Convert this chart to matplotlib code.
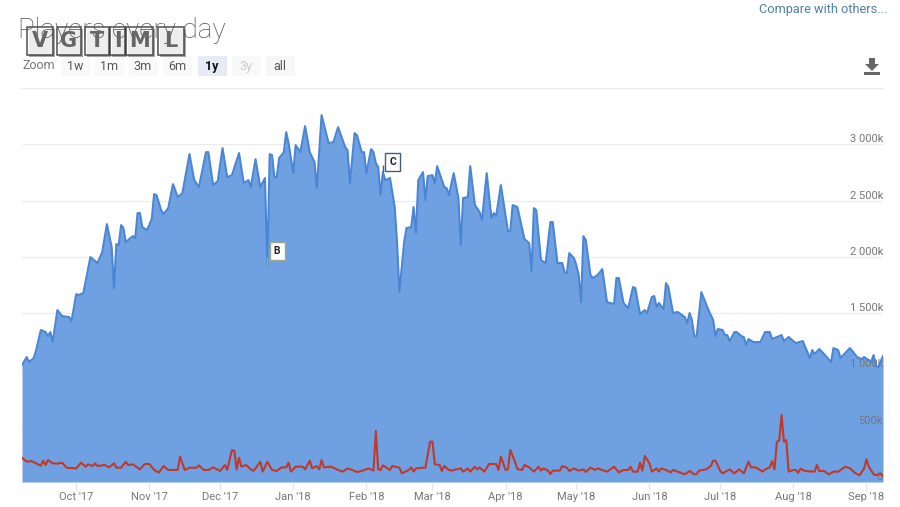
import datetime
import matplotlib
matplotlib.use("Agg")
import matplotlib.pyplot as plt
import matplotlib.dates as mdates
from matplotlib.patches import Rectangle, Polygon

plt.rcParams['font.family'] = ['Roboto', 'DejaVu Sans']

W, H = 900.0, 507.0
start = datetime.date(2017, 9, 8)

# day since 8 Sep 2017, players in thousands
players = [(0,1039),(2,1110),(3,1066),(5,1101),(6,1172),(8,1350),(10,1332),(11,1296),(12,1332),(13,1243),
    (15,1527),(17,1474),(20,1465),(21,1430),(23,1669),(24,1661),(26,1678),(29,1998),(32,1945),(34,2042),
    (36,2291),(38,2087),(39,1723),(40,2113),(41,2105),(42,2282),(43,2256),(44,2131),(47,2184),(48,2167),
    (49,2389),(50,2389),(51,2264),(53,2238),(55,2335),(56,2557),(57,2549),(59,2415),(60,2380),(62,2433),
    (64,2646),(66,2531),(68,2566),(71,2913),(73,2682),(75,2620),(78,2930),(79,2930),(81,2637),(83,2673),
    (85,2966),(87,2708),(89,2726),(92,2922),(94,2655),(96,2682),(97,2620),(99,2868),(101,2620),(103,2700),
    (104,1909),(105,2913),(106,2904),(107,2708),(108,2708),(109,2877),(111,2930),(112,3108),(113,3010),(115,2744),
    (116,2992),(118,2930),(120,3161),(122,2930),(124,2842),(125,2611),(127,3259),(130,3010),(132,3019),(134,3152),
    (137,2975),(138,2948),(139,2655),(141,3099),(142,3081),(144,2930),(145,2930),(146,2744),(148,2957),(149,2930),
    (150,2833),(151,2797),(152,2549),(153,2753),(154,2682),(156,2700),(158,2442),(159,2122),(160,1687),(162,2131),
    (163,2256),(165,2264),(166,2442),(167,2211),(168,2682),(170,2753),(171,2504),(172,2717),(174,2726),(175,2655),
    (176,2806),(179,2620),(180,2611),(181,2549),(183,2744),(185,2522),(186,2105),(187,2522),(189,2531),(190,2806),
    (192,2460),(194,2398),(195,2327),(197,2744),(199,2344),(200,2389),(201,2362),(203,2637),(206,2229),(207,2229),
    (208,2460),(210,2442),(213,2158),(215,2122),(216,1874),(217,2433),(218,2415),(220,1971),(222,1945),(224,2309),
    (225,2309),(227,1945),(229,1945),(230,1865),(231,1856),(232,2033),(234,1989),(235,1927),(236,1838),(237,1598),
    (238,2184),(239,2149),(241,1838),(242,1812),(244,1838),(246,1891),(248,1598),(251,1581),(252,1812),(253,1812),
    (255,1590),(257,1545),(259,1732),(260,1723),(262,1492),(264,1527),(265,1501),(267,1643),(268,1652),(269,1554),
    (270,1590),(272,1536),(273,1767),(274,1732),(276,1501),(278,1510),(281,1465),(282,1412),(283,1501),(284,1439),
    (285,1296),(286,1296),(288,1687),(291,1527),(293,1439),(294,1296),(295,1359),(297,1350),(298,1305),(299,1305),
    (300,1252),(302,1332),(303,1332),(305,1296),(306,1288),(307,1217),(308,1270),(310,1243),(313,1243),(315,1332),
    (317,1332),(318,1270),(322,1305),(323,1252),(325,1288),(328,1234),(331,1252),(334,1101),(335,1172),(336,1137),
    (338,1181),(340,1137),(343,1066),(344,1190),(346,1172),(347,1101),(351,1190),(354,1110),(356,1092),(357,1110),
    (360,1066),(361,1128),(362,1030),(363,1021),(365,1119)]

second = [(0,216),(2,180),(4,186),(6,166),(8,145),(9,189),(10,151),(11,195),(13,166),(15,163),(17,172),(19,127),
    (23,121),(25,172),(27,136),(28,157),(30,142),(31,166),(32,142),(35,151),(37,130),(39,166),(40,127),(42,127),
    (44,180),(45,151),(47,157),(50,112),(52,160),(54,160),(56,107),(58,83),(60,142),(62,107),(66,107),(67,225),
    (69,107),(71,127),(74,127),(75,148),(77,107),(79,107),(81,130),(84,98),(86,151),(87,107),(89,284),(90,278),
    (91,112),(92,216),(93,136),(95,151),(97,112),(98,98),(99,121),(101,180),(102,92),(104,180),(106,107),(108,98),
    (110,130),(112,130),(113,172),(114,92),(116,136),(119,136),(120,112),(122,189),(123,121),(125,142),(126,112),(127,195),
    (128,130),(131,136),(134,107),(136,92),(138,121),(140,107),(142,89),(144,98),(147,121),(149,101),(150,453),(151,112),
    (152,107),(153,148),(156,107),(157,142),(160,127),(161,77),(164,107),(165,130),(166,92),(167,121),(170,127),(171,127),
    (172,240),(173,358),(174,358),(175,157),(177,151),(178,98),(179,142),(181,107),(182,101),(184,112),(186,121),(187,92),
    (189,121),(190,92),(192,136),(193,112),(194,130),(196,92),(198,160),(201,160),(202,107),(203,225),(205,107),(206,112),
    (207,284),(209,180),(210,115),(212,107),(213,151),(215,130),(217,92),(219,136),(220,101),(221,121),(223,101),(224,71),
    (225,101),(228,101),(229,142),(231,127),(232,98),(234,121),(236,101),(238,112),(239,89),(241,127),(243,107),(244,121),
    (246,107),(248,92),(251,136),(253,86),(255,107),(257,107),(258,136),(259,92),(261,92),(262,172),(263,101),(264,231),
    (266,166),(267,92),(269,121),(270,92),(271,121),(273,107),(275,86),(276,107),(279,83),(281,68),(283,98),(285,68),
    (286,71),(287,101),(290,112),(292,142),(293,189),(294,189),(296,98),(297,77),(300,112),(302,77),(304,112),(306,77),
    (308,181),(309,130),(311,130),(314,92),(315,112),(317,130),(318,186),(319,112),(320,358),(321,367),(322,595),(323,358),
    (324,373),(325,92),(327,107),(328,107),(329,83),(330,118),(332,98),(336,92),(337,151),(338,98),(340,98),(342,68),
    (344,92),(346,92),(349,136),(351,121),(353,83),(355,59),(357,121),(358,201),(359,136),(361,68),(362,62),(364,71),(365,53)]


def to_dates(pairs):
    return [start + datetime.timedelta(days=p[0]) for p in pairs]


fig = plt.figure(figsize=(9.0, 5.07), dpi=100)
ax = fig.add_axes([22 / W, 1 - 482 / H, (883 - 22) / W, (482 - 88) / H])

ax.hlines(range(0, 4000, 500), start, start + datetime.timedelta(days=365), color="#ebebeb", lw=0.8, zorder=0.5)

x1 = to_dates(players)
y1 = [p[1] for p in players]
ax.fill_between(x1, y1, 0, color="#6fa1e2", lw=0, zorder=1)
ax.plot(x1, y1, color="#4a86d4", lw=1.5, zorder=2)
ax.plot(to_dates(second), [p[1] for p in second], color="#c0392b", lw=1.5, zorder=3)

ax.set_xlim(start, start + datetime.timedelta(days=365))
ax.set_ylim(0, 3500)
for s in ax.spines.values():
    s.set_visible(False)

ax.set_xticks([datetime.date(2017, m, 1) for m in (10, 11, 12)] + [datetime.date(2018, m, 1) for m in range(1, 10)])
ax.xaxis.set_major_formatter(mdates.DateFormatter("%b '%y"))
ax.tick_params(axis="x", length=6, width=1, color="#e3e6ec", labelcolor="#777777", labelsize=8, pad=1.5)

ax.set_yticks([0, 500, 1000, 1500, 2000, 2500, 3000])
ax.set_yticklabels(["0", "500k", "1 000k", "1 500k", "2 000k", "2 500k", "3 000k"])
ax.yaxis.tick_right()
ax.tick_params(axis="y", length=0, pad=0, labelcolor="#777777", labelsize=8)
for lab in ax.get_yticklabels():
    lab.set_ha("right")
    lab.set_va("bottom")

# flags
for day, val, name, dy, edge, stem in [(104, 1909, "B", 11, "#9aa88a", 90), (153, 2753, "C", 5, "#3f5f80", 60)]:
    d = start + datetime.timedelta(days=day)
    ax.vlines(d, val, val + stem, color=edge, lw=1, zorder=5)
    ax.annotate(name, xy=(d, val), xytext=(7, dy * 0.72), textcoords="offset points",
                ha="center", va="bottom", fontsize=7.5, fontweight="bold", color="#222222", zorder=6,
                bbox=dict(boxstyle="square,pad=0.4", fc="white", ec=edge, lw=1))

# header
fig.text(18 / W, 1 - 38 / H, "Players every day", fontsize=20, color="#555555", fontweight="light", va="baseline")
fig.text(887 / W, 1 - 13 / H, "Compare with others...", fontsize=9.2, color="#4f7fa8", ha="right", va="baseline")
fig.text(22 / W, 1 - 69 / H, "Zoom", fontsize=9, color="#777777", va="baseline")
fig.add_artist(plt.Line2D([22 / W, 883 / W], [1 - 87.5 / H] * 2, color="#ebebeb", lw=0.8))

for cx, name, bg, col, wt in [(75, "1w", "#f9f9f9", "#555555", "normal"), (109, "1m", "#f9f9f9", "#555555", "normal"),
                              (143, "3m", "#f9f9f9", "#555555", "normal"), (177, "6m", "#f9f9f9", "#555555", "normal"),
                              (212, "1y", "#e6ebf5", "#111111", "bold"), (246, "3y", "#f9f9f9", "#cccccc", "normal"),
                              (280, "all", "#f7f7f7", "#555555", "normal")]:
    fig.add_artist(Rectangle(((cx - 14) / W, 1 - 76 / H), 29 / W, 20 / H, transform=fig.transFigure, fc=bg, ec="none"))
    fig.text(cx / W, 1 - 70 / H, name, fontsize=9, color=col, fontweight=wt, ha="center", va="baseline")

# download icon
ico = "#666666"
fig.add_artist(Polygon([[(869 / W), 1 - 58 / H], [875 / W, 1 - 58 / H], [875 / W, 1 - 64 / H], [879 / W, 1 - 64 / H],
                        [872 / W, 1 - 71 / H], [865 / W, 1 - 64 / H], [869 / W, 1 - 64 / H]],
                       transform=fig.transFigure, fc=ico, ec="none"))
fig.add_artist(Rectangle((864 / W, 1 - 75 / H), 16 / W, 3 / H, transform=fig.transFigure, fc=ico, ec="none"))

# watermark
for x0, x1_, ch in [(27, 53, "V"), (57, 81, "G"), (85, 109, "T"), (110, 125, "I"), (126, 153, "M"), (158, 184, "L")]:
    fig.add_artist(Rectangle(((x0 + 1.5) / W, 1 - 57 / H), (x1_ - x0) / W, 28 / H, transform=fig.transFigure,
                             fc="#555555", ec="none", alpha=0.5))
    fig.add_artist(Rectangle((x0 / W, 1 - 55 / H), (x1_ - x0) / W, 28 / H, transform=fig.transFigure,
                             fc="white", ec="#333333", lw=1.2, alpha=0.8))
    fig.text((x0 + x1_) / 2 / W, 1 - 41 / H, ch, fontsize=15, fontweight="bold", color="#666666",
             ha="center", va="center", family="DejaVu Sans")

fig.savefig("out.png", dpi=100)
